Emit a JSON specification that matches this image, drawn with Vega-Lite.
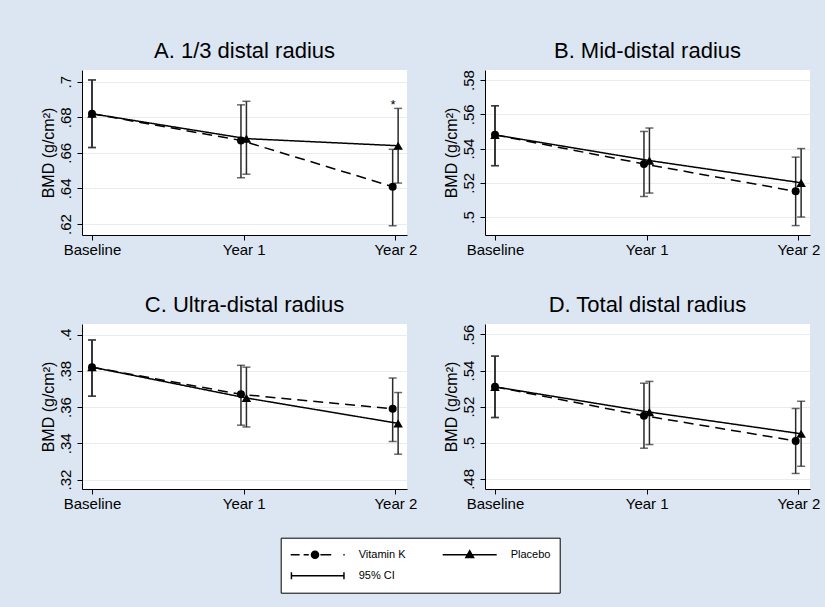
{
  "$schema": "https://vega.github.io/schema/vega-lite/v6.json",
  "padding": {"left": 40, "top": 39, "right": 5, "bottom": 17},
  "background": "#dce6f2",
  "datasets": {
    "bmd": [
      {"panel": "A", "group": "Vitamin K", "visit": "Baseline", "t": 0, "bmd": 0.682, "lo": 0.663, "hi": 0.701},
      {"panel": "A", "group": "Vitamin K", "visit": "Year 1", "t": 0.982, "bmd": 0.667, "lo": 0.646, "hi": 0.687},
      {"panel": "A", "group": "Vitamin K", "visit": "Year 2", "t": 1.982, "bmd": 0.641, "lo": 0.619, "hi": 0.662},
      {"panel": "A", "group": "Placebo", "visit": "Baseline", "t": 0, "bmd": 0.682, "lo": 0.663, "hi": 0.701},
      {"panel": "A", "group": "Placebo", "visit": "Year 1", "t": 1.018, "bmd": 0.668, "lo": 0.648, "hi": 0.689},
      {"panel": "A", "group": "Placebo", "visit": "Year 2", "t": 2.018, "bmd": 0.664, "lo": 0.643, "hi": 0.685, "note": "*"},
      {"panel": "B", "group": "Vitamin K", "visit": "Baseline", "t": 0, "bmd": 0.548, "lo": 0.530, "hi": 0.565},
      {"panel": "B", "group": "Vitamin K", "visit": "Year 1", "t": 0.982, "bmd": 0.531, "lo": 0.512, "hi": 0.550},
      {"panel": "B", "group": "Vitamin K", "visit": "Year 2", "t": 1.982, "bmd": 0.515, "lo": 0.495, "hi": 0.535},
      {"panel": "B", "group": "Placebo", "visit": "Baseline", "t": 0, "bmd": 0.548, "lo": 0.530, "hi": 0.565},
      {"panel": "B", "group": "Placebo", "visit": "Year 1", "t": 1.018, "bmd": 0.533, "lo": 0.514, "hi": 0.552},
      {"panel": "B", "group": "Placebo", "visit": "Year 2", "t": 2.018, "bmd": 0.520, "lo": 0.500, "hi": 0.540},
      {"panel": "C", "group": "Vitamin K", "visit": "Baseline", "t": 0, "bmd": 0.382, "lo": 0.366, "hi": 0.397},
      {"panel": "C", "group": "Vitamin K", "visit": "Year 1", "t": 0.982, "bmd": 0.367, "lo": 0.350, "hi": 0.383},
      {"panel": "C", "group": "Vitamin K", "visit": "Year 2", "t": 1.982, "bmd": 0.359, "lo": 0.341, "hi": 0.376},
      {"panel": "C", "group": "Placebo", "visit": "Baseline", "t": 0, "bmd": 0.382, "lo": 0.366, "hi": 0.397},
      {"panel": "C", "group": "Placebo", "visit": "Year 1", "t": 1.018, "bmd": 0.365, "lo": 0.349, "hi": 0.382},
      {"panel": "C", "group": "Placebo", "visit": "Year 2", "t": 2.018, "bmd": 0.351, "lo": 0.334, "hi": 0.368},
      {"panel": "D", "group": "Vitamin K", "visit": "Baseline", "t": 0, "bmd": 0.531, "lo": 0.514, "hi": 0.548},
      {"panel": "D", "group": "Vitamin K", "visit": "Year 1", "t": 0.982, "bmd": 0.515, "lo": 0.497, "hi": 0.533},
      {"panel": "D", "group": "Vitamin K", "visit": "Year 2", "t": 1.982, "bmd": 0.501, "lo": 0.483, "hi": 0.519},
      {"panel": "D", "group": "Placebo", "visit": "Baseline", "t": 0, "bmd": 0.531, "lo": 0.514, "hi": 0.548},
      {"panel": "D", "group": "Placebo", "visit": "Year 1", "t": 1.018, "bmd": 0.517, "lo": 0.499, "hi": 0.534},
      {"panel": "D", "group": "Placebo", "visit": "Year 2", "t": 2.018, "bmd": 0.505, "lo": 0.487, "hi": 0.523}
    ]
  },
  "columns": 2,
  "spacing": {"row": 89, "column": 78},
  "bounds": "flush",
  "concat": [
    {
      "title": "A. 1/3 distal radius",
      "width": 325, "height": 165,
      "data": {"name": "bmd"},
      "transform": [{"filter": "datum.panel === 'A'"}],
      "layer": [
        {
          "mark": {"type": "errorbar", "color": "#2a2a2a", "thickness": 1.5, "ticks": {"size": 8}},
          "encoding": {
            "x": {"field": "t", "type": "quantitative", "scale": {"domain": [-0.0659, 2.0765], "nice": false, "zero": false}, "axis": {"values": [0, 1, 2], "labelExpr": "datum.value == 0 ? 'Baseline' : datum.value == 1 ? 'Year 1' : 'Year 2'", "title": null, "grid": false, "labelFlush": false, "labelOverlap": false, "labelPadding": 2}},
            "y": {"field": "lo", "type": "quantitative", "title": "BMD (g/cm²)", "scale": {"domain": [0.6138, 0.7066], "nice": false, "zero": false}, "axis": {"values": [0.62, 0.64, 0.66, 0.68, 0.7]}},
            "y2": {"field": "hi"},
            "detail": {"field": "group", "type": "nominal"}
          }
        },
        {
          "mark": {"type": "line", "color": "black", "strokeWidth": 1.5},
          "encoding": {
            "x": {"field": "t", "type": "quantitative"},
            "y": {"field": "bmd", "type": "quantitative", "title": "BMD (g/cm²)"},
            "strokeDash": {"field": "group", "type": "nominal", "scale": {"domain": ["Vitamin K", "Placebo"], "range": [[10, 6], [1, 0]]}, "legend": null}
          }
        },
        {
          "transform": [{"filter": "datum.group === 'Vitamin K'"}],
          "mark": {"type": "point", "shape": "circle", "filled": true, "color": "black", "opacity": 1, "size": 64},
          "encoding": {
            "x": {"field": "t", "type": "quantitative"},
            "y": {"field": "bmd", "type": "quantitative", "title": "BMD (g/cm²)"}
          }
        },
        {
          "transform": [{"filter": "datum.group === 'Placebo'"}],
          "mark": {"type": "point", "shape": "triangle-up", "filled": true, "color": "black", "opacity": 1, "size": 90},
          "encoding": {
            "x": {"field": "t", "type": "quantitative"},
            "y": {"field": "bmd", "type": "quantitative", "title": "BMD (g/cm²)"}
          }
        },
        {
          "transform": [{"filter": "false"}],
          "mark": {"type": "point", "filled": true, "color": "black", "opacity": 1},
          "encoding": {
            "x": {"field": "t", "type": "quantitative"},
            "y": {"field": "bmd", "type": "quantitative", "title": "BMD (g/cm²)"},
            "shape": {"field": "group", "type": "nominal",
              "scale": {"domain": ["Vitamin K", "Placebo", "95% CI"], "range": [
                "M-1,-0.028H-0.67V0.028H-1ZM-0.52,-0.028H-0.33V0.028H-0.52ZM0.06,0A0.16,0.16,0,1,1,-0.26,0A0.16,0.16,0,1,1,0.06,0ZM0.1,-0.028H0.5V0.028H0.1ZM0.95,-0.028H1V0.028H0.95Z",
                "M-1,-0.028H1V0.028H-1ZM0,-0.2L0.19,0.13L-0.19,0.13Z",
                "M-1,-0.028H1V0.028H-1ZM-1,-0.13H-0.945V0.13H-1ZM0.945,-0.13H1V0.13H0.945Z"]},
              "legend": {
                "orient": "none", "legendX": 198.7, "legendY": 467.7, "direction": "horizontal", "title": null, "columns": 2, "columnPadding": 36, "rowPadding": 5,
                "padding": 9, "strokeColor": "black", "fillColor": "white", "symbolSize": 2916, "labelFontSize": 11, "labelOffset": 13, "clipHeight": 16,
                "labelFont": "Liberation Sans", "labelColor": "black",
                "symbolFillColor": "black", "symbolOpacity": 1
              }
            }
          }
        },
        {
          "transform": [{"filter": "datum.note"}],
          "mark": {"type": "text", "fontSize": 13, "dx": -5, "dy": 1, "baseline": "alphabetic", "color": "black"},
          "encoding": {
            "x": {"field": "t", "type": "quantitative"},
            "y": {"field": "hi", "type": "quantitative", "title": "BMD (g/cm²)"},
            "text": {"field": "note"}
          }
        }
      ]
    },
    {
      "title": "B. Mid-distal radius",
      "width": 325, "height": 165,
      "data": {"name": "bmd"},
      "transform": [{"filter": "datum.panel === 'B'"}],
      "layer": [
        {
          "mark": {"type": "errorbar", "color": "#2a2a2a", "thickness": 1.5, "ticks": {"size": 8}},
          "encoding": {
            "x": {"field": "t", "type": "quantitative", "scale": {"domain": [-0.0659, 2.0765], "nice": false, "zero": false}, "axis": {"values": [0, 1, 2], "labelExpr": "datum.value == 0 ? 'Baseline' : datum.value == 1 ? 'Year 1' : 'Year 2'", "title": null, "grid": false, "labelFlush": false, "labelOverlap": false, "labelPadding": 2}},
            "y": {"field": "lo", "type": "quantitative", "title": "BMD (g/cm²)", "scale": {"domain": [0.4895, 0.5859], "nice": false, "zero": false}, "axis": {"values": [0.5, 0.52, 0.54, 0.56, 0.58]}},
            "y2": {"field": "hi"},
            "detail": {"field": "group", "type": "nominal"}
          }
        },
        {
          "mark": {"type": "line", "color": "black", "strokeWidth": 1.5},
          "encoding": {
            "x": {"field": "t", "type": "quantitative"},
            "y": {"field": "bmd", "type": "quantitative", "title": "BMD (g/cm²)"},
            "strokeDash": {"field": "group", "type": "nominal", "scale": {"domain": ["Vitamin K", "Placebo"], "range": [[10, 6], [1, 0]]}, "legend": null}
          }
        },
        {
          "transform": [{"filter": "datum.group === 'Vitamin K'"}],
          "mark": {"type": "point", "shape": "circle", "filled": true, "color": "black", "opacity": 1, "size": 64},
          "encoding": {
            "x": {"field": "t", "type": "quantitative"},
            "y": {"field": "bmd", "type": "quantitative", "title": "BMD (g/cm²)"}
          }
        },
        {
          "transform": [{"filter": "datum.group === 'Placebo'"}],
          "mark": {"type": "point", "shape": "triangle-up", "filled": true, "color": "black", "opacity": 1, "size": 90},
          "encoding": {
            "x": {"field": "t", "type": "quantitative"},
            "y": {"field": "bmd", "type": "quantitative", "title": "BMD (g/cm²)"}
          }
        }
      ]
    },
    {
      "title": "C. Ultra-distal radius",
      "width": 325, "height": 165,
      "data": {"name": "bmd"},
      "transform": [{"filter": "datum.panel === 'C'"}],
      "layer": [
        {
          "mark": {"type": "errorbar", "color": "#2a2a2a", "thickness": 1.5, "ticks": {"size": 8}},
          "encoding": {
            "x": {"field": "t", "type": "quantitative", "scale": {"domain": [-0.0659, 2.0765], "nice": false, "zero": false}, "axis": {"values": [0, 1, 2], "labelExpr": "datum.value == 0 ? 'Baseline' : datum.value == 1 ? 'Year 1' : 'Year 2'", "title": null, "grid": false, "labelFlush": false, "labelOverlap": false, "labelPadding": 2}},
            "y": {"field": "lo", "type": "quantitative", "title": "BMD (g/cm²)", "scale": {"domain": [0.3148, 0.4058], "nice": false, "zero": false}, "axis": {"values": [0.32, 0.34, 0.36, 0.38, 0.4]}},
            "y2": {"field": "hi"},
            "detail": {"field": "group", "type": "nominal"}
          }
        },
        {
          "mark": {"type": "line", "color": "black", "strokeWidth": 1.5},
          "encoding": {
            "x": {"field": "t", "type": "quantitative"},
            "y": {"field": "bmd", "type": "quantitative", "title": "BMD (g/cm²)"},
            "strokeDash": {"field": "group", "type": "nominal", "scale": {"domain": ["Vitamin K", "Placebo"], "range": [[10, 6], [1, 0]]}, "legend": null}
          }
        },
        {
          "transform": [{"filter": "datum.group === 'Vitamin K'"}],
          "mark": {"type": "point", "shape": "circle", "filled": true, "color": "black", "opacity": 1, "size": 64},
          "encoding": {
            "x": {"field": "t", "type": "quantitative"},
            "y": {"field": "bmd", "type": "quantitative", "title": "BMD (g/cm²)"}
          }
        },
        {
          "transform": [{"filter": "datum.group === 'Placebo'"}],
          "mark": {"type": "point", "shape": "triangle-up", "filled": true, "color": "black", "opacity": 1, "size": 90},
          "encoding": {
            "x": {"field": "t", "type": "quantitative"},
            "y": {"field": "bmd", "type": "quantitative", "title": "BMD (g/cm²)"}
          }
        }
      ]
    },
    {
      "title": "D. Total distal radius",
      "width": 325, "height": 165,
      "data": {"name": "bmd"},
      "transform": [{"filter": "datum.panel === 'D'"}],
      "layer": [
        {
          "mark": {"type": "errorbar", "color": "#2a2a2a", "thickness": 1.5, "ticks": {"size": 8}},
          "encoding": {
            "x": {"field": "t", "type": "quantitative", "scale": {"domain": [-0.0659, 2.0765], "nice": false, "zero": false}, "axis": {"values": [0, 1, 2], "labelExpr": "datum.value == 0 ? 'Baseline' : datum.value == 1 ? 'Year 1' : 'Year 2'", "title": null, "grid": false, "labelFlush": false, "labelOverlap": false, "labelPadding": 2}},
            "y": {"field": "lo", "type": "quantitative", "title": "BMD (g/cm²)", "scale": {"domain": [0.4744, 0.5658], "nice": false, "zero": false}, "axis": {"values": [0.48, 0.5, 0.52, 0.54, 0.56]}},
            "y2": {"field": "hi"},
            "detail": {"field": "group", "type": "nominal"}
          }
        },
        {
          "mark": {"type": "line", "color": "black", "strokeWidth": 1.5},
          "encoding": {
            "x": {"field": "t", "type": "quantitative"},
            "y": {"field": "bmd", "type": "quantitative", "title": "BMD (g/cm²)"},
            "strokeDash": {"field": "group", "type": "nominal", "scale": {"domain": ["Vitamin K", "Placebo"], "range": [[10, 6], [1, 0]]}, "legend": null}
          }
        },
        {
          "transform": [{"filter": "datum.group === 'Vitamin K'"}],
          "mark": {"type": "point", "shape": "circle", "filled": true, "color": "black", "opacity": 1, "size": 64},
          "encoding": {
            "x": {"field": "t", "type": "quantitative"},
            "y": {"field": "bmd", "type": "quantitative", "title": "BMD (g/cm²)"}
          }
        },
        {
          "transform": [{"filter": "datum.group === 'Placebo'"}],
          "mark": {"type": "point", "shape": "triangle-up", "filled": true, "color": "black", "opacity": 1, "size": 90},
          "encoding": {
            "x": {"field": "t", "type": "quantitative"},
            "y": {"field": "bmd", "type": "quantitative", "title": "BMD (g/cm²)"}
          }
        }
      ]
    }
  ],
  "config": {
    "font": "Liberation Sans",
    "view": {"fill": "white", "stroke": null},
    "axis": {
      "domainColor": "black", "domainWidth": 1, "tickColor": "black", "tickWidth": 1, "tickSize": 5,
      "labelColor": "black", "labelFont": "Liberation Sans", "labelFontSize": 15,
      "titleColor": "black", "titleFont": "Liberation Sans", "titleFontSize": 16, "titleFontWeight": "normal"
    },
    "axisY": {
      "grid": true, "gridColor": "#e6edf0", "gridWidth": 1,
      "labelExpr": "slice(format(datum.value, '.2~f'), 1)",
      "labelAngle": -90, "labelAlign": "center", "labelBaseline": "bottom", "labelPadding": 4, "titlePadding": 2, "labelOverlap": false
    },
    "title": {"fontSize": 22, "fontWeight": "normal", "font": "Liberation Sans", "color": "black", "anchor": "middle", "frame": "group", "baseline": "alphabetic", "offset": 7}
  }
}
